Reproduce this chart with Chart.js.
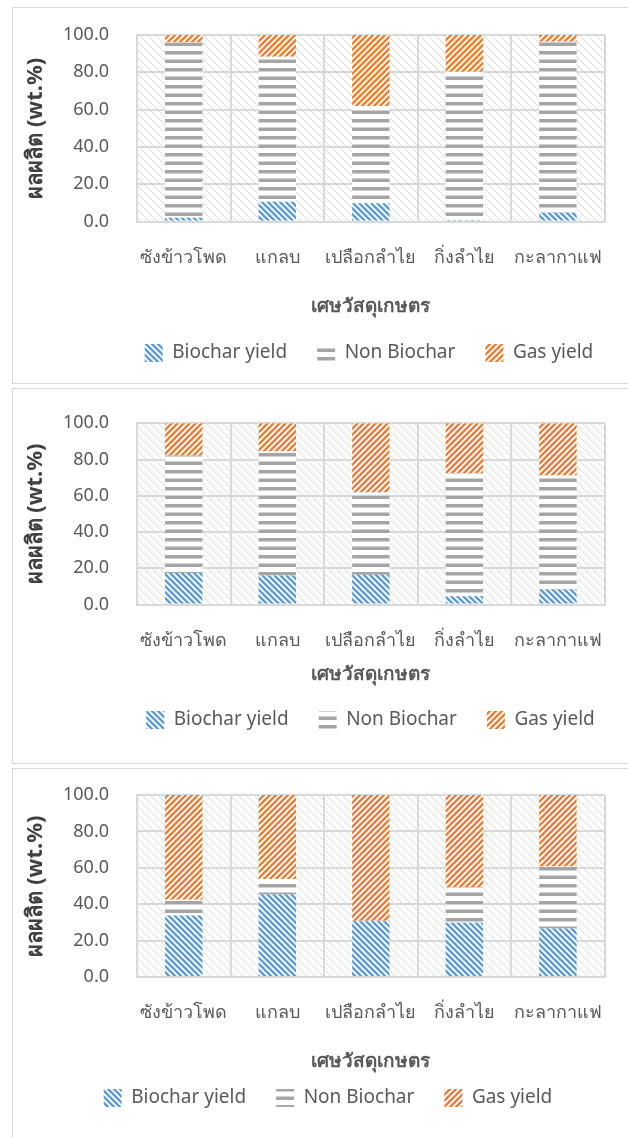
<!DOCTYPE html>
<html><head><meta charset="utf-8">
<script src="https://cdn.jsdelivr.net/npm/chart.js@4.4.1/dist/chart.umd.min.js"></script>
<style>
html,body{margin:0;padding:0;background:#fff;width:628px;height:1137px;overflow:hidden;position:relative}
.box{position:absolute;left:12px;width:640px;border:1.5px solid #d9d9d9;background:#fff;box-sizing:border-box}
canvas{position:absolute;left:0}
</style></head><body>
<div class="box" style="top:7px;height:377px"></div>
<div class="box" style="top:388px;height:376px"></div>
<div class="box" style="top:768px;height:400px"></div>
<canvas id="c1" style="top:0px" width="628" height="390"></canvas>
<canvas id="c2" style="top:385px" width="628" height="380"></canvas>
<canvas id="c3" style="top:765px" width="628" height="372"></canvas>
<script>
const categories = ['ซังข้าวโพด', 'แกลบ', 'เปลือกลำไย', 'กิ่งลำไย', 'กะลากาแฟ'];
const seriesNames = ['Biochar yield', 'Non Biochar', 'Gas yield'];
const yTickValues = [0, 20, 40, 60, 80, 100];
const yTitle = 'ผลผลิต (wt.%)';
const xTitle = 'เศษวัสดุเกษตร';

// Chart 1
const biochar1 = [2.1, 10.7, 9.8, 0.9, 4.8];
const nonBiochar1 = [94.0, 77.7, 52.2, 79.4, 91.6];
const gas1 = [3.9, 11.6, 38.0, 19.7, 3.6];
// Chart 2
const biochar2 = [17.4, 16.1, 16.5, 4.6, 8.3];
const nonBiochar2 = [64.8, 68.3, 45.3, 67.9, 62.9];
const gas2 = [17.8, 15.6, 38.2, 27.5, 28.8];
// Chart 3
const biochar3 = [33.8, 45.3, 30.7, 29.8, 26.7];
const nonBiochar3 = [8.7, 8.6, 0.3, 19.7, 34.1];
const gas3 = [57.5, 46.1, 69.0, 50.5, 39.2];

const FONT = "'Noto Sans', 'DejaVu Sans', sans-serif";
const TXT = '#595959';

function diagPattern(color, dir, size, lw, bg) {
  const c = document.createElement('canvas');
  c.width = size; c.height = size;
  const g = c.getContext('2d');
  g.fillStyle = bg; g.fillRect(0, 0, size, size);
  g.strokeStyle = color; g.lineWidth = lw;
  g.beginPath();
  for (let k = -1; k <= 1; k++) {
    if (dir === 'down') { g.moveTo(-2, k * size - 2); g.lineTo(size + 2, (k + 1) * size + 2); }
    else { g.moveTo(-2, (k + 1) * size + 2); g.lineTo(size + 2, k * size - 2); }
  }
  g.stroke();
  return g.createPattern(c, 'repeat');
}
function hPattern(color, bg) {
  const c = document.createElement('canvas');
  c.width = 8; c.height = 17;
  const g = c.getContext('2d');
  g.fillStyle = bg; g.fillRect(0, 0, 8, 17);
  g.fillStyle = color;
  g.fillRect(0, 0, 8, 3.5);
  g.fillRect(0, 8.5, 8, 3.5);
  return g.createPattern(c, 'repeat');
}
const bluePat = diagPattern('#5B9BD5', 'down', 6, 2.3, '#ffffff');
const grayPat = hPattern('#A5A5A5', '#ffffff');
const orangePat = diagPattern('#ED7D31', 'up', 6, 2.3, '#ffffff');
const bgPat = diagPattern('#dadada', 'down', 8, 1, '#ffffff');

const plotBg = {
  id: 'plotBg',
  beforeDraw(chart) {
    const {ctx, chartArea: a} = chart;
    ctx.save();
    ctx.fillStyle = bgPat;
    ctx.fillRect(a.left, a.top, a.right - a.left, a.bottom - a.top);
    ctx.restore();
  }
};
const legendPlacer = {
  id: 'legendPlacer',
  afterLayout(chart, args, opts) {
    const l = chart.legend;
    if (!l) return;
    const p = l.options.labels.padding;
    const w = l.right - l.left;
    l.left = opts.cx - w / 2; l.right = l.left + w;
    l.top = opts.cy - p - opts.itemH / 2;
    l.height = opts.itemH + 2 * p;
    l.bottom = l.top + l.height;
  }
};

function makeChart(id, bio, non, gas, cfg) {
  new Chart(document.getElementById(id), {
    type: 'bar',
    data: {
      labels: categories,
      datasets: [
        {label: seriesNames[0], data: bio, backgroundColor: bluePat, borderWidth: 0},
        {label: seriesNames[1], data: non, backgroundColor: grayPat, borderWidth: 0},
        {label: seriesNames[2], data: gas, backgroundColor: orangePat, borderWidth: 0}
      ]
    },
    plugins: [plotBg, legendPlacer],
    options: {
      responsive: false,
      animation: false,
      layout: {padding: {top: cfg.padTop, right: 11, left: 0, bottom: cfg.padBottom}},
      datasets: {bar: {categoryPercentage: 1.0, barPercentage: 0.4}},
      scales: {
        x: {
          stacked: true,
          grid: {color: '#d9d9d9', lineWidth: 2, drawTicks: false, offset: true},
          border: {color: '#d9d9d9', width: 2},
          ticks: {color: TXT, font: {family: FONT, size: 18}, padding: 25, maxRotation: 0, autoSkip: false},
          title: {display: true, text: xTitle, color: TXT, font: {family: FONT, size: 19, weight: 'bold'},
                  padding: {top: cfg.xTitleTop, bottom: 0}}
        },
        y: {
          stacked: true,
          min: yTickValues[0], max: yTickValues[yTickValues.length - 1],
          afterFit(s) { s.width = 137; s.paddingTop = 0; s.paddingBottom = 0; },
          afterBuildTicks(s) { s.ticks = yTickValues.map(v => ({value: v})); },
          grid: {color: '#d9d9d9', lineWidth: 2, drawTicks: false},
          border: {color: '#d9d9d9', width: 2},
          ticks: {color: TXT, font: {family: FONT, size: 18}, padding: 28, callback: v => Number(v).toFixed(1)},
          title: {display: true, text: yTitle, color: '#404040', font: {family: FONT, size: 22, weight: 'bold'},
                  padding: {top: 23, bottom: 0}}
        }
      },
      plugins: {
        tooltip: {enabled: false},
        legend: {
          position: 'bottom', maxHeight: 1,
          labels: {color: TXT, font: {family: FONT, size: 19}, boxWidth: 18, boxHeight: 18, padding: 30}
        },
        legendPlacer: {cx: cfg.legendX, cy: cfg.legendY, itemH: 19}
      }
    }
  });
}

makeChart('c1', biochar1, nonBiochar1, gas1, {padTop: 35, padBottom: 71, xTitleTop: 2, legendX: 369, legendY: 353});
makeChart('c2', biochar2, nonBiochar2, gas2, {padTop: 38.3, padBottom: 78, xTitleTop: -13, legendX: 370.5, legendY: 335});
makeChart('c3', biochar3, nonBiochar3, gas3, {padTop: 30, padBottom: 63.5, xTitleTop: 1, legendX: 328, legendY: 333});
</script>
</body></html>
